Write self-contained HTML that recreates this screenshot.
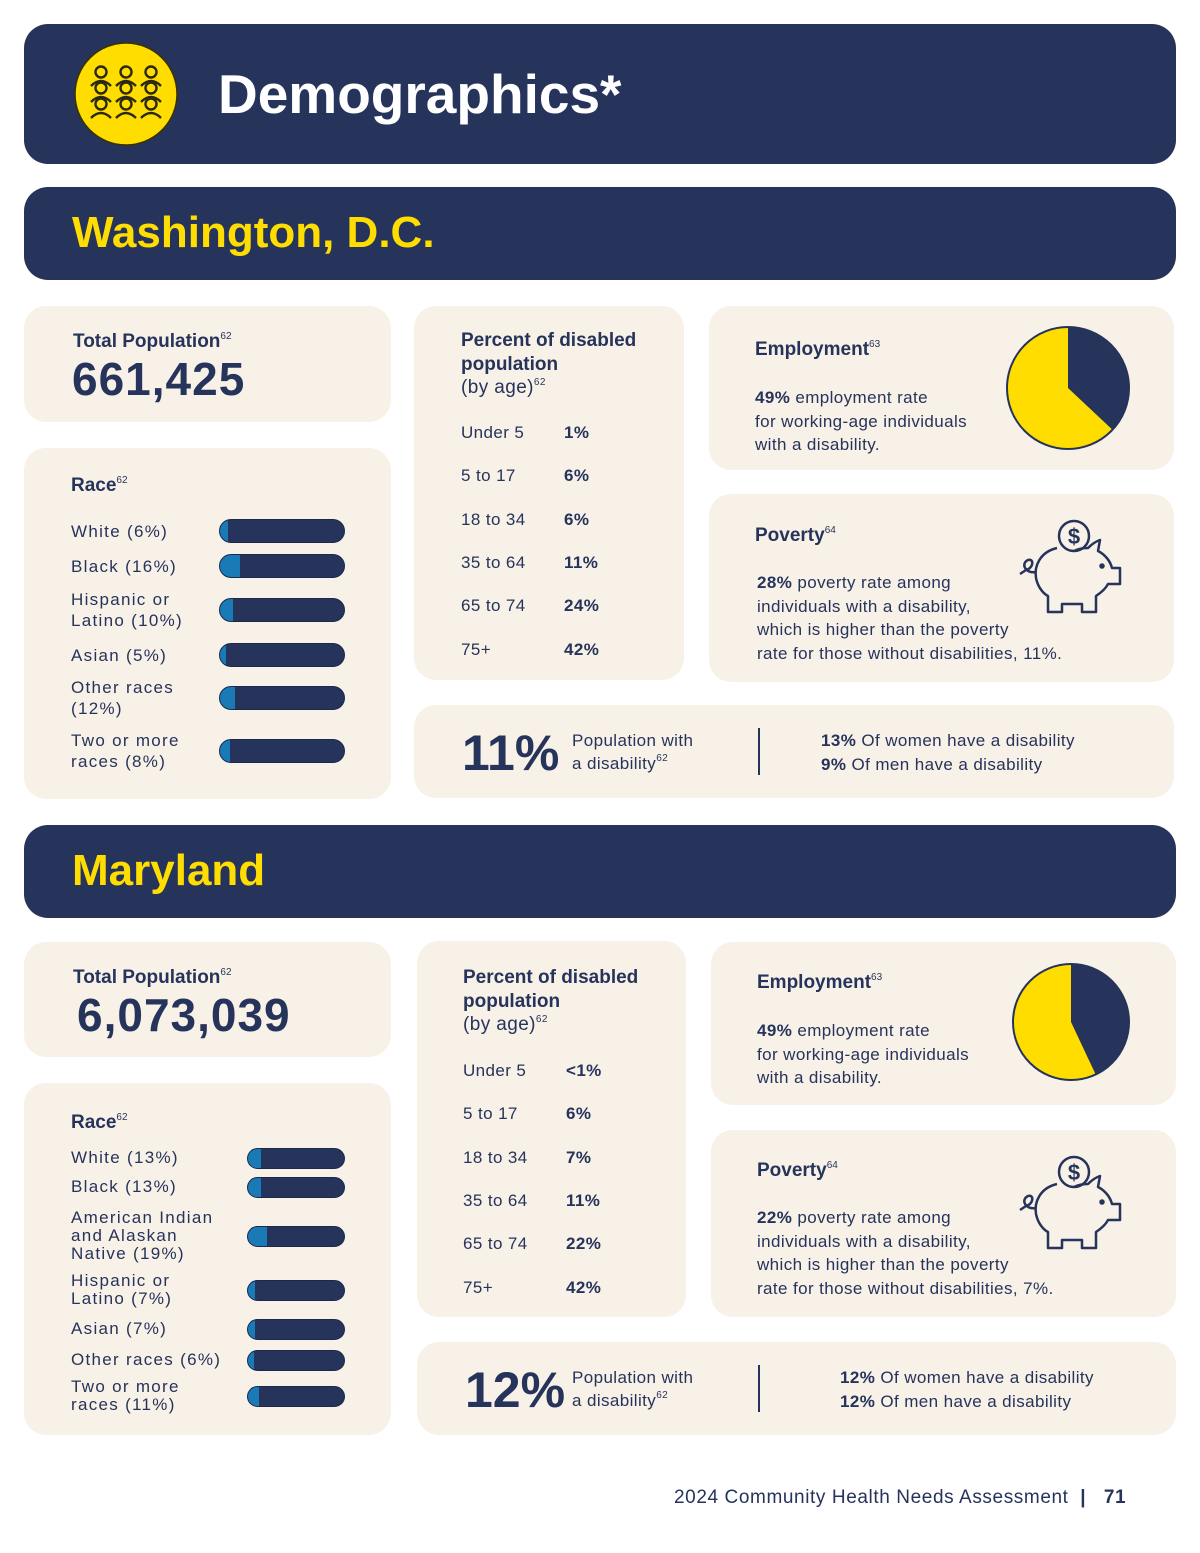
<!DOCTYPE html>
<html><head><meta charset="utf-8"><style>
*{margin:0;padding:0;box-sizing:border-box}
body{width:1200px;height:1553px;background:#fff;position:relative;font-family:"Liberation Sans",sans-serif;color:#26335a;overflow:hidden}
.a{position:absolute}
.navy{background:#26335a;border-radius:24px}
.card{background:#f8f1e8;border-radius:22px}
.h{font-weight:bold;font-size:19px}
sup{font-size:10px;font-weight:normal;vertical-align:baseline;position:relative;top:-8px;line-height:0}
.big{font-weight:bold;font-size:46px;letter-spacing:1px}
.t{font-size:17px;letter-spacing:.4px;line-height:21px}
.b{font-weight:bold}
.track{position:absolute;height:24px;background:#26335a;border-radius:12px;overflow:hidden;border:1px solid #1b2a4a}
.fill{position:absolute;left:0;top:0;bottom:0;background:#1a7ab5}
</style></head><body>
<div class="a navy" style="left:24px;top:24px;width:1152px;height:140px"></div>
<svg class="a" style="left:74px;top:42px" width="104" height="104" viewBox="0 0 104 104">
<circle cx="52" cy="52" r="51" fill="#ffdd00" stroke="#3a3200" stroke-width="1.5"/>
<g fill="none" stroke="#2b2a10" stroke-width="2.4">
<g id="p"><circle cx="27" cy="30" r="5.5"/><path d="M17 44 q10-10 20 0"/></g>
<use href="#p" x="25"/><use href="#p" x="50"/>
<use href="#p" y="16"/><use href="#p" x="25" y="16"/><use href="#p" x="50" y="16"/>
<use href="#p" y="32"/><use href="#p" x="25" y="32"/><use href="#p" x="50" y="32"/>
</g></svg>
<div class="a" style="left:218px;top:62px;color:#fff;font-weight:bold;font-size:55px">Demographics*</div>

<!-- DC -->
<div class="a navy" style="left:24px;top:187px;width:1152px;height:93px"></div>
<div class="a" style="left:72px;top:208px;color:#ffdd00;font-weight:bold;font-size:44px">Washington, D.C.</div>

<div class="a card" style="left:24px;top:306px;width:367px;height:116px"></div>
<div class="a h" style="left:73px;top:331px">Total Population<sup>62</sup></div>
<div class="a big" style="left:72px;top:352px">661,425</div>

<div class="a card" style="left:24px;top:448px;width:367px;height:351px"></div>
<div class="a h" style="left:71px;top:475px">Race<sup>62</sup></div>
<div id="dcRace"></div>

<div class="a card" style="left:414px;top:306px;width:270px;height:374px"></div>
<div class="a h" style="left:461px;top:329px;line-height:24px">Percent of disabled<br>population</div>
<div class="a t" style="left:461px;top:377px;font-size:19px">(by age)<sup>62</sup></div>
<div id="dcAge"></div>

<div class="a card" style="left:709px;top:306px;width:465px;height:164px"></div>
<div class="a h" style="left:755px;top:339px">Employment<sup>63</sup></div>
<div class="a t" style="left:755px;top:386px;line-height:23.5px"><span class="b">49%</span> employment rate<br>for working-age individuals<br>with a disability.</div>
<svg class="a" id="pie0" style="left:1005px;top:325px" width="126" height="126"></svg>

<div class="a card" style="left:709px;top:494px;width:465px;height:188px"></div>
<div class="a h" style="left:755px;top:525px">Poverty<sup>64</sup></div>
<div class="a t" style="left:757px;top:571px;line-height:23.5px"><span class="b">28%</span> poverty rate among<br>individuals with a disability,<br>which is higher than the poverty<br>rate for those without disabilities, 11%.</div>
<svg class="a pig" style="left:1012px;top:516px" width="120" height="100"></svg>

<div class="a card" style="left:414px;top:705px;width:760px;height:93px"></div>
<div class="a" style="left:462px;top:724px;font-weight:bold;font-size:50px">11%</div>
<div class="a t" style="left:572px;top:729px;line-height:23px">Population with<br>a disability<sup>62</sup></div>
<div class="a" style="left:758px;top:728px;width:2px;height:47px;background:#26335a"></div>
<div class="a t" style="left:821px;top:729px;line-height:24px"><span class="b">13%</span> Of women have a disability<br><span class="b">9%</span> Of men have a disability</div>

<!-- MD -->
<div class="a navy" style="left:24px;top:825px;width:1152px;height:93px"></div>
<div class="a" style="left:72px;top:846px;color:#ffdd00;font-weight:bold;font-size:44px">Maryland</div>

<div class="a card" style="left:24px;top:942px;width:367px;height:115px"></div>
<div class="a h" style="left:73px;top:967px">Total Population<sup>62</sup></div>
<div class="a big" style="left:77px;top:988px">6,073,039</div>

<div class="a card" style="left:24px;top:1083px;width:367px;height:352px"></div>
<div class="a h" style="left:71px;top:1112px">Race<sup>62</sup></div>
<div id="mdRace"></div>

<div class="a card" style="left:417px;top:941px;width:269px;height:376px"></div>
<div class="a h" style="left:463px;top:966px;line-height:24px">Percent of disabled<br>population</div>
<div class="a t" style="left:463px;top:1014px;font-size:19px">(by age)<sup>62</sup></div>
<div id="mdAge"></div>

<div class="a card" style="left:711px;top:942px;width:465px;height:163px"></div>
<div class="a h" style="left:757px;top:972px">Employment<sup>63</sup></div>
<div class="a t" style="left:757px;top:1019px;line-height:23.5px"><span class="b">49%</span> employment rate<br>for working-age individuals<br>with a disability.</div>
<svg class="a" id="pie1" style="left:1011px;top:962px" width="120" height="120"></svg>

<div class="a card" style="left:711px;top:1130px;width:465px;height:187px"></div>
<div class="a h" style="left:757px;top:1160px">Poverty<sup>64</sup></div>
<div class="a t" style="left:757px;top:1206px;line-height:23.5px"><span class="b">22%</span> poverty rate among<br>individuals with a disability,<br>which is higher than the poverty<br>rate for those without disabilities, 7%.</div>
<svg class="a pig" style="left:1012px;top:1152px" width="120" height="100"></svg>

<div class="a card" style="left:417px;top:1342px;width:759px;height:93px"></div>
<div class="a" style="left:465px;top:1361px;font-weight:bold;font-size:50px">12%</div>
<div class="a t" style="left:572px;top:1366px;line-height:23px">Population with<br>a disability<sup>62</sup></div>
<div class="a" style="left:758px;top:1365px;width:2px;height:47px;background:#26335a"></div>
<div class="a t" style="left:840px;top:1366px;line-height:24px"><span class="b">12%</span> Of women have a disability<br><span class="b">12%</span> Of men have a disability</div>

<div class="a" style="left:674px;top:1487px;font-size:19px;letter-spacing:.6px">2024 Community Health Needs Assessment &nbsp;<span style="font-weight:bold">|</span>&nbsp;&nbsp; <span class="b">71</span></div>

<script>
const dcRaceLabels=["White (6%)","Black (16%)","Hispanic or<br>Latino (10%)","Asian (5%)","Other races<br>(12%)","Two or more<br>races (8%)"];
const dcRaceValues=[6,16,10,5,12,8];
const mdRaceLabels=["White (13%)","Black (13%)","American Indian<br>and Alaskan<br>Native (19%)","Hispanic or<br>Latino (7%)","Asian (7%)","Other races (6%)","Two or more<br>races (11%)"];
const mdRaceValues=[13,13,19,7,7,6,11];
const ageLabels=["Under 5","5 to 17","18 to 34","35 to 64","65 to 74","75+"];
const dcAgeValues=["1%","6%","6%","11%","24%","42%"];
const mdAgeValues=["<1%","6%","7%","11%","22%","42%"];
const pieNavyShare=[37,43];

function race(id,labels,vals,rows,barX,barW,pre){
  const c=document.getElementById(id);
  labels.forEach((l,i)=>{
    const lines=l.split("<br>").length;
    const lh=pre==="md"?18:21;
    const d=document.createElement("div");d.className="a t";
    
    
    d.style.cssText=`left:71px;top:${rows[i]-lines*lh/2}px;line-height:${lh}px;letter-spacing:1.3px`;
    d.innerHTML=l;c.appendChild(d);
    const t=document.createElement("div");t.className="track";
    
    
    const h=pre==="md"?21:24;
    t.style.cssText=`left:${barX}px;top:${rows[i]-h/2}px;width:${barW}px;height:${h}px`;
    const f=document.createElement("div");f.className="fill";
    
    
    f.style.width=(vals[i]/100*barW)+"px";t.appendChild(f);c.appendChild(t);
  });
}
race("dcRace",dcRaceLabels,dcRaceValues,[531,566,610,655,698,751],219,126,"dc");
race("mdRace",mdRaceLabels,mdRaceValues,[1158,1187,1236,1290,1329,1360,1396],247,98,"md");

function age(id,vals,x,y0,pre){
  const c=document.getElementById(id);
  ageLabels.forEach((l,i)=>{
    const a=document.createElement("div");a.className="a t";
    
    
    a.style.cssText=`left:${x}px;top:${y0+i*43.3}px`;a.textContent=l;c.appendChild(a);
    const v=document.createElement("div");v.className="a t b";
    
    
    v.style.cssText=`left:${x+103}px;top:${y0+i*43.3}px`;v.textContent=vals[i];c.appendChild(v);
  });
}
age("dcAge",dcAgeValues,461,422,"dc");
age("mdAge",mdAgeValues,463,1060,"md");

const NS="http://www.w3.org/2000/svg";
pieNavyShare.forEach((p,i)=>{
  const s=document.getElementById("pie"+i);const W=+s.getAttribute("width");const r=W/2-2,cx=W/2,cy=W/2;
  const c=document.createElementNS(NS,"circle");c.setAttribute("cx",cx);c.setAttribute("cy",cy);c.setAttribute("r",r);
  c.setAttribute("fill","#ffdd00");c.setAttribute("stroke","#26335a");c.setAttribute("stroke-width","2");
  
  
  s.appendChild(c);
  const ang=p/100*2*Math.PI;const x=cx+r*Math.sin(ang),y=cy-r*Math.cos(ang);
  const path=document.createElementNS(NS,"path");
  path.setAttribute("d",`M${cx} ${cy}L${cx} ${cy-r}A${r} ${r} 0 ${p>50?1:0} 1 ${x} ${y}Z`);
  path.setAttribute("fill","#26335a");
  
  
  s.appendChild(path);
});
document.querySelectorAll(".pig").forEach(s=>{
  s.innerHTML='<g fill="none" stroke="#26335a" stroke-width="2.5" stroke-linejoin="round"><circle cx="62" cy="20" r="15"/><text x="62" y="28" font-size="22" font-family="Liberation Sans" text-anchor="middle" fill="#26335a" stroke="none" font-weight="bold">$</text><path d="M45 32 C28 36 22 50 24 62 C26 72 32 78 36 80 L36 96 L50 96 L50 88 L70 88 L70 96 L84 96 L84 80 C90 76 94 72 96 68 L108 68 L108 52 L100 52 C98 44 92 38 86 35 L88 24 C82 26 78 30 76 32 C72 32 66 33 62 35"/><path d="M24 56 C14 58 8 48 16 44 C22 42 22 52 14 54 L8 58"/><circle cx="90" cy="50" r="1.5" fill="#26335a"/></g>';
});
</script>
</body></html>
